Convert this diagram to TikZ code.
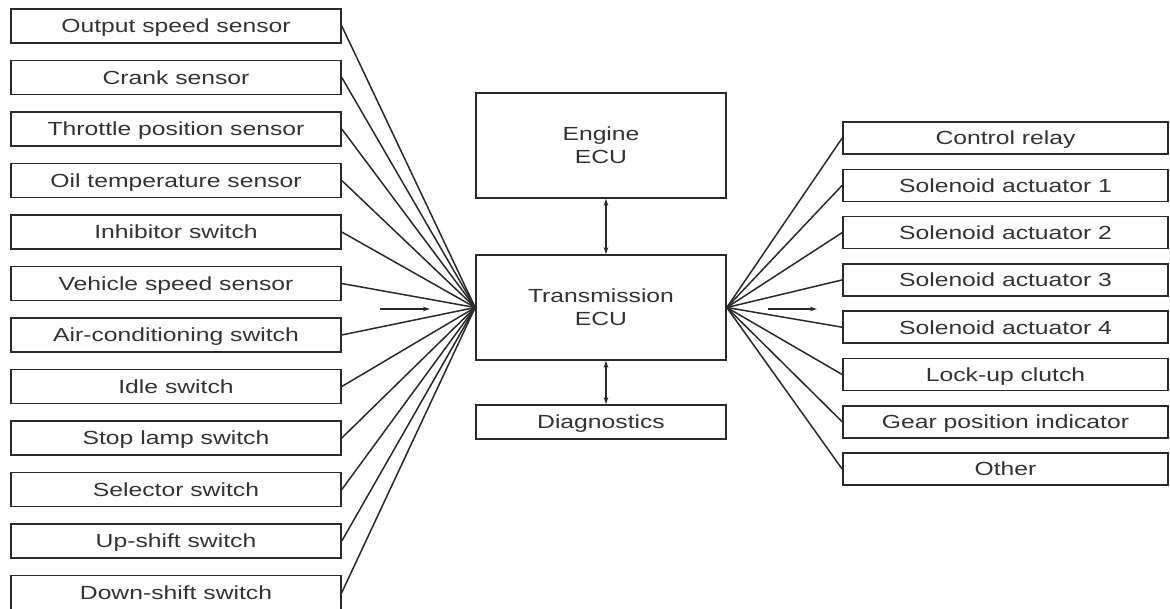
\documentclass[tikz,border=0pt]{standalone}
\usepackage{fontspec}
\setmainfont{Liberation Sans}
\newfontfamily\lbl[FakeStretch=1.3]{Liberation Sans}
\usetikzlibrary{arrows.meta}
\definecolor{ink}{HTML}{2A2A2A}
\definecolor{txt}{HTML}{333333}
\begin{document}
\begin{tikzpicture}[x=1pt,y=-1pt,
  box/.style={draw=ink,line width=1.6pt,inner sep=0pt,align=center,text=txt,
    font=\lbl\fontsize{19}{23}\selectfont},
  lbox/.style={box,minimum width=330pt,minimum height=34pt,text height=13.6pt,text depth=0pt},
  rbox/.style={box,minimum width=325pt,minimum height=32pt,text height=13.6pt,text depth=0pt},
  cbox/.style={box,minimum width=250pt},
  wire/.style={draw=ink,line width=1.5pt},
  tip/.style={wire,-{Stealth[length=7pt,width=4.5pt]}},
  dtip/.style={wire,{Stealth[length=7pt,width=4.5pt]}-{Stealth[length=7pt,width=4.5pt]}}]
\useasboundingbox[fill=white] (0,0) rectangle (1170,608);
\node[cbox,minimum height=105pt] (engine) at (601,145.5) {Engine\\ECU};
\node[cbox,minimum height=105pt] (trans) at (601,307.5) {Transmission\\ECU};
\node[cbox,minimum height=34pt,text height=13.6pt,text depth=0pt] (diag) at (601,422) {Diagnostics};
\foreach \t [count=\i] in {Output speed sensor,Crank sensor,Throttle position sensor,
  Oil temperature sensor,Inhibitor switch,Vehicle speed sensor,Air-conditioning switch,
  Idle switch,Stop lamp switch,Selector switch,Up-shift switch,Down-shift switch}
  \node[lbox] (L\i) at (176,{26+51.5*(\i-1)}) {\t};
\foreach \t [count=\i] in {Control relay,Solenoid actuator 1,Solenoid actuator 2,
  Solenoid actuator 3,Solenoid actuator 4,Lock-up clutch,Gear position indicator,Other}
  \node[rbox] (R\i) at (1005.5,{138+47.3*(\i-1)}) {\t};
\foreach \i in {1,...,12} \draw[wire] (L\i.east) -- (trans.west);
\foreach \i in {1,...,8} \draw[wire] (trans.east) -- (R\i.west);
\draw[dtip] ([xshift=5pt]engine.south) -- ([xshift=5pt]trans.north);
\draw[dtip] ([xshift=5pt]trans.south) -- ([xshift=5pt]diag.north);
\coordinate (la) at (380,309);
\coordinate (lb) at (430,309);
\coordinate (ra) at (768,309);
\coordinate (rb) at (817,309);
\draw[tip] (la) -- (lb);
\draw[tip] (ra) -- (rb);
\end{tikzpicture}
\end{document}
